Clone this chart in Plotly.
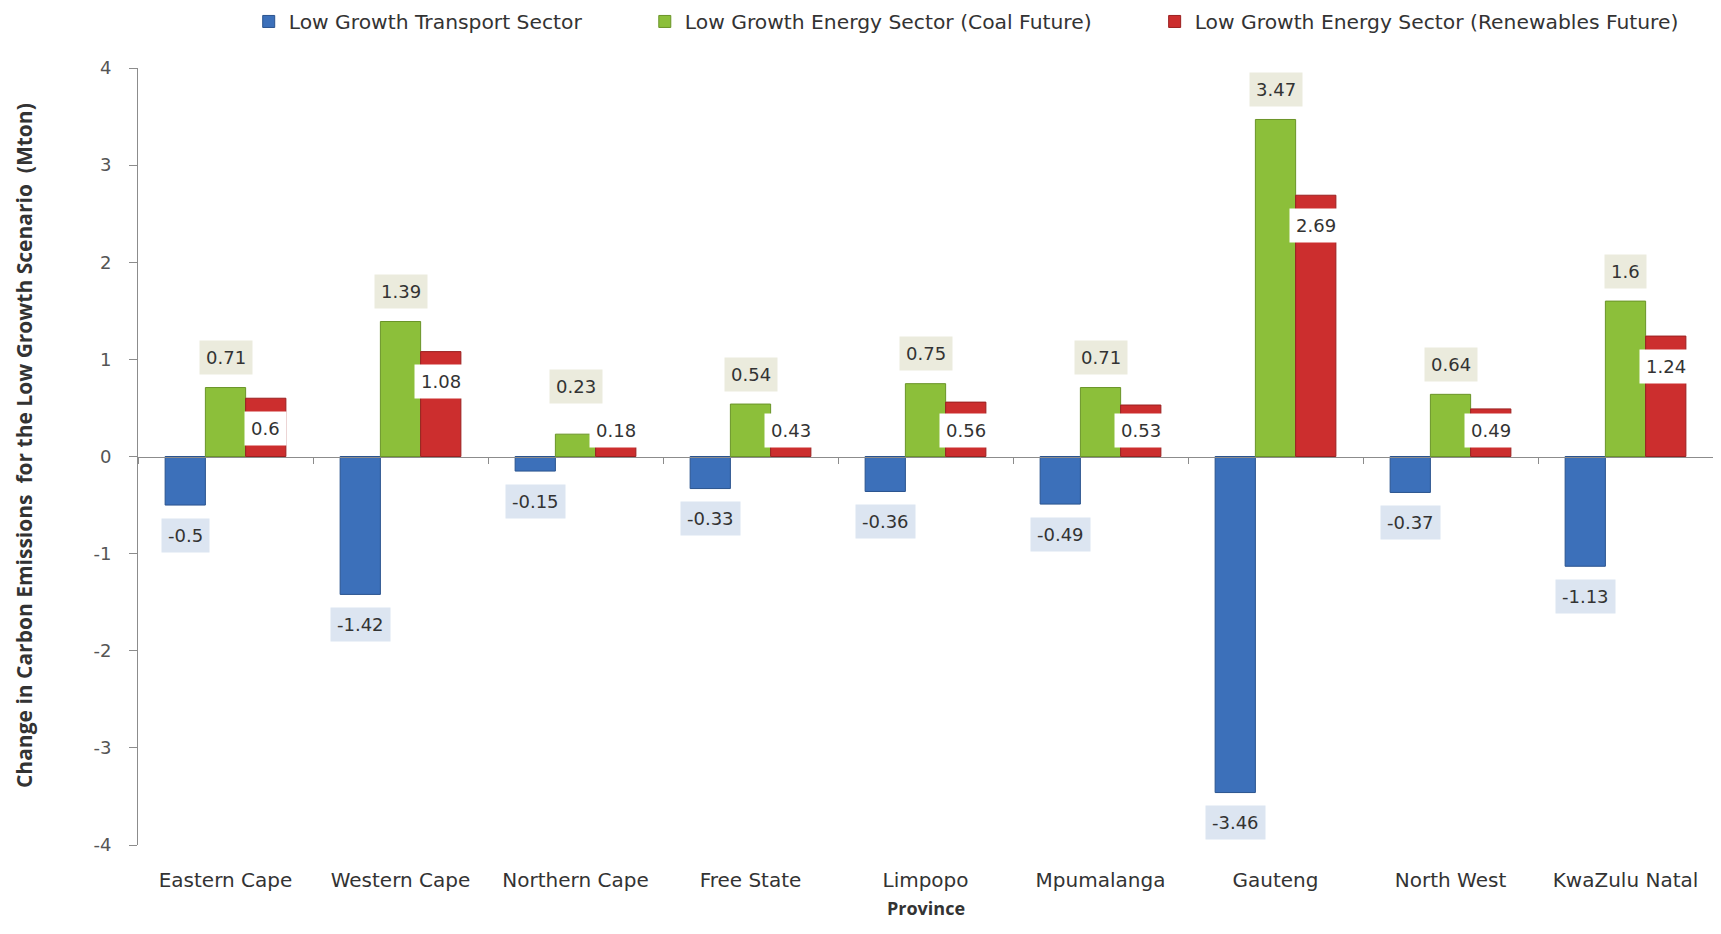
import plotly.graph_objects as go

provinces = ["Eastern Cape", "Western Cape", "Northern Cape", "Free State", "Limpopo",
             "Mpumalanga", "Gauteng", "North West", "KwaZulu Natal"]
transport = [-0.5, -1.42, -0.15, -0.33, -0.36, -0.49, -3.46, -0.37, -1.13]
coal = [0.71, 1.39, 0.23, 0.54, 0.75, 0.71, 3.47, 0.64, 1.6]
renew = [0.6, 1.08, 0.18, 0.43, 0.56, 0.53, 2.69, 0.49, 1.24]
y_ticks = [-4, -3, -2, -1, 0, 1, 2, 3, 4]
y_tick_labels = ["-4", "-3", "-2", "-1", "0", "1", "2", "3", "4"]

names = ["Low Growth Transport Sector",
         "Low Growth Energy Sector (Coal Future)",
         "Low Growth Energy Sector (Renewables Future)"]
colors = ["#3C70BA", "#8CBF3A", "#CC2E2E"]
lines = ["#2A538E", "#6A9428", "#9A2020"]
label_bg = ["#DCE5F1", "#EBEBDD", "#FFFFFF"]

# page body has an 8px margin
W, H = 1705, 918
ml, mr, mt, mb = 130, 0, 60, 81
plot_h = H - mt - mb
unit_px = plot_h / 8.0
bargap = 0.31
bw = (1 - bargap) / 3

fig = go.Figure()
series = [transport, coal, renew]
pad = "\u00a0" * 9
for k, (vals, nm) in enumerate(zip(series, names)):
    fig.add_trace(go.Bar(
        x=provinces, y=vals, name=nm + (pad if k < 2 else ""),
        marker=dict(color=colors[k], line=dict(color=lines[k], width=1)),
    ))

# invisible helper trace for the category axis drawn at y = 0
fig.add_trace(go.Scatter(x=provinces, y=[None] * len(provinces), xaxis="x2",
                         showlegend=False, hoverinfo="skip", mode="markers"))

lab_font = dict(family="DejaVu Sans", size=18, color="#333333")
off_lab = 30 / unit_px
min_red = 26 / unit_px
for i, p in enumerate(provinces):
    fig.add_annotation(x=i - bw, y=transport[i] - off_lab, xref="x", yref="y",
                       text=str(transport[i]), showarrow=False, font=lab_font,
                       bgcolor=label_bg[0], borderpad=6)
    ry = max(renew[i] - off_lab, min_red)
    fig.add_annotation(x=i + bw, y=ry, xref="x", yref="y",
                       text=str(renew[i]), showarrow=False, font=lab_font,
                       bgcolor=label_bg[2], borderpad=6)
    cy = max(coal[i] + off_lab, ry + 44 / unit_px)
    fig.add_annotation(x=i, y=cy, xref="x", yref="y",
                       text=str(coal[i]), showarrow=False, font=lab_font,
                       bgcolor=label_bg[1], borderpad=6)

# axis titles
fig.add_annotation(x=0.5, y=-63 / plot_h, xref="paper", yref="paper",
                   text="<b>Province</b>", showarrow=False, yanchor="middle",
                   font=dict(family="Open Sans", size=18, color="#333333"))
fig.add_annotation(x=0, xshift=-114, y=0.5135, xref="paper", yref="paper",
                   text="<b>Change in Carbon Emissions  for the Low Growth Scenario  (Mton)</b>",
                   textangle=-90, showarrow=False, xanchor="center", yanchor="middle",
                   font=dict(family="Open Sans", size=21, color="#333333"))

fig.update_layout(
    width=W, height=H,
    margin=dict(l=ml, r=mr, t=mt, b=mb),
    paper_bgcolor="white", plot_bgcolor="white",
    barmode="group", bargap=bargap, bargroupgap=0,
    font=dict(family="DejaVu Sans", color="#404040"),
    legend=dict(orientation="h", xref="container", yref="container",
                x=0.562, xanchor="center", y=0.985, yanchor="middle",
                font=dict(family="DejaVu Sans", size=20.3, color="#333333"),
                itemwidth=30),
    xaxis=dict(type="category", showline=False, ticks="", showgrid=False,
               zeroline=False, ticklabelstandoff=21, automargin=False,
               tickfont=dict(family="DejaVu Sans", size=20, color="#333333")),
    xaxis2=dict(type="category", overlaying="x", matches="x", anchor="free", position=0.5,
                side="bottom", showline=True, linecolor="#8C8C8C", linewidth=1,
                ticks="outside", tickson="boundaries", ticklen=6, tickcolor="#8C8C8C",
                showticklabels=False, showgrid=False, zeroline=False),
    yaxis=dict(range=[-4, 4], tickvals=y_ticks, ticktext=y_tick_labels,
               showgrid=False, zeroline=False, automargin=False,
               showline=True, linecolor="#8C8C8C", linewidth=1,
               ticks="outside", ticklen=8, tickcolor="#8C8C8C", ticklabelstandoff=14,
               tickfont=dict(family="DejaVu Sans", size=18, color="#555555")),
)

fig.write_html("out.html")
